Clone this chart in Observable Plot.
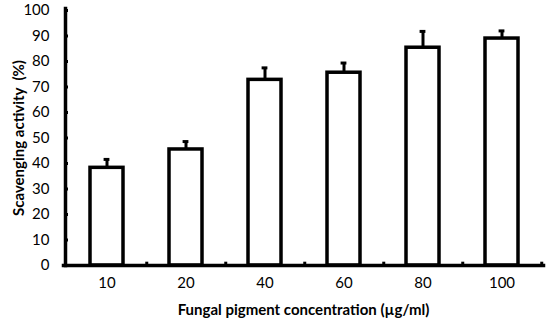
<!DOCTYPE html>
<html>
<head>
<meta charset="utf-8">
<script src="https://cdn.jsdelivr.net/npm/d3@7"></script>
<script src="https://cdn.jsdelivr.net/npm/@observablehq/plot@0.6"></script>
<style>
  body { margin: 0; background: #fff; }
  #chart svg { font-family: Lato, "Open Sans", sans-serif; }
</style>
</head>
<body>
<div id="chart"></div>
<script>
const concentrations = ["10", "20", "40", "60", "80", "100"];
const activity = [38.3, 45.5, 72.8, 75.6, 85.4, 89.0];
const errors = [3.3, 3.1, 4.7, 3.8, 6.4, 3.0];
const yTicks = [0, 10, 20, 30, 40, 50, 60, 70, 80, 90, 100];

const data = concentrations.map((c, i) => ({c, v: activity[i], e: activity[i] + errors[i]}));

const W = 550, H = 322;
const mL = 65, mR = 8, mT = 10, mB = 57;
const step = (W - mL - mR) / concentrations.length;

const chart = Plot.plot({
  width: W,
  height: H,
  marginLeft: mL,
  marginRight: mR,
  marginTop: mT,
  marginBottom: mB,
  style: {fontFamily: "Lato, 'Open Sans', sans-serif", fontSize: "15px", color: "#000", background: "#fff"},
  x: {domain: concentrations, paddingInner: 0.585, paddingOuter: 0.2925},
  y: {domain: [0, 100]},
  marks: [
    Plot.axisY({ticks: yTicks, tickSize: -3, tickPadding: 19, strokeWidth: 3, fontSize: 15,
      label: "Scavenging activity  (%)", labelAnchor: "center", labelArrow: "none", labelOffset: 52}),
    Plot.axisX({tickSize: 0, tickPadding: 12, fontSize: 15, label: null}),
    Plot.ruleX(data, {x: "c", y1: "v", y2: "e", strokeWidth: 3, stroke: "#000"}),
    Plot.tickY(data, {x: "c", y: "e", strokeWidth: 3, insetLeft: step * 0.41 - 19, insetRight: step * 0.41 - 19}),
    Plot.barY(data, {x: "c", y: "v", fill: "#fff", stroke: "#000", strokeWidth: 3.5}),
    Plot.ruleX(data, {x: "c", y1: 0, y2: 1.3, dx: step / 2, strokeWidth: 3, stroke: "#000"}),
    Plot.frame({anchor: "left", strokeWidth: 3.5, insetTop: -2}),
    Plot.frame({anchor: "bottom", strokeWidth: 3.5, insetLeft: -2, insetRight: -1})
  ]
});

const container = document.getElementById("chart");
container.appendChild(chart);
const svg = d3.select(chart);
svg.selectAll("[aria-label='y-axis label'] text").attr("font-weight", "bold").attr("font-size", 15);

svg.append("text")
  .attr("x", mL + (W - mL - mR) / 2)
  .attr("y", 315)
  .attr("text-anchor", "middle")
  .attr("font-weight", "bold")
  .attr("font-size", 15)
  .text("Fungal pigment concentration (µg/ml)");
</script>
</body>
</html>
